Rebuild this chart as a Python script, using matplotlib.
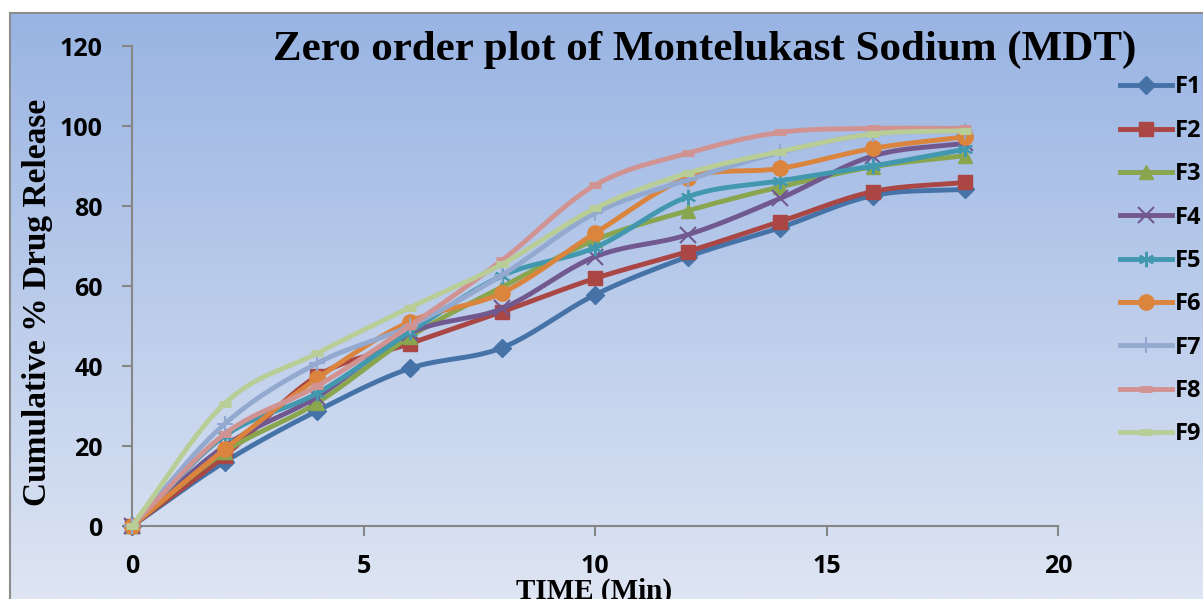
import matplotlib.pyplot as plt
import numpy as np

time_min = [0, 2, 4, 6, 8, 10, 12, 14, 16, 18]

f1 = [0, 16.0, 28.8, 39.4, 44.6, 57.8, 67.3, 74.6, 82.6, 84.2]
f2 = [0, 17.5, 37.5, 45.6, 53.6, 61.9, 68.6, 76.1, 83.6, 85.9]
f3 = [0, 18.5, 30.8, 47.3, 59.8, 71.5, 78.8, 84.8, 89.8, 92.6]
f4 = [0, 20.0, 32.3, 48.2, 54.4, 67.3, 72.8, 81.9, 92.5, 95.7]
f5 = [0, 22.5, 33.2, 48.5, 62.6, 69.6, 82.3, 86.3, 90.0, 94.2]
f6 = [0, 19.2, 36.9, 51.1, 58.3, 73.2, 87.0, 89.4, 94.4, 97.3]
f7 = [0, 25.5, 40.7, 50.0, 62.8, 78.2, 86.5, 93.4, 98.0, 98.8]
f8 = [0, 23.0, 35.0, 50.0, 66.5, 85.2, 93.2, 98.4, 99.4, 99.4]
f9 = [0, 30.6, 43.2, 54.6, 65.5, 79.4, 88.2, 93.6, 98.0, 98.8]

names = ['F1', 'F2', 'F3', 'F4', 'F5', 'F6', 'F7', 'F8', 'F9']
series = [f1, f2, f3, f4, f5, f6, f7, f8, f9]
colors = ['#4572A7', '#AA4643', '#89A54E', '#71588F', '#4198AF',
          '#DB843D', '#93A9CF', '#D19392', '#B9CD96']
markers = ['D', 's', '^', 'x', (6, 2, 0), 'o', '+', '_', '_']
msizes = [9, 10, 10, 11, 11, 11, 11, 9, 9]
mews = [1, 1, 1, 1.5, 1.5, 1, 1.5, 5, 5]


def smooth(x, y, n=24):
    # catmull-rom curve through the points, like excel's "smoothed line"
    x = np.asarray(x, float)
    y = np.asarray(y, float)
    px = np.concatenate([[2 * x[0] - x[1]], x, [2 * x[-1] - x[-2]]])
    py = np.concatenate([[2 * y[0] - y[1]], y, [2 * y[-1] - y[-2]]])
    xs, ys = [], []
    t = np.linspace(0, 1, n, endpoint=False)
    for i in range(1, len(px) - 2):
        for p, out in ((px, xs), (py, ys)):
            p0, p1, p2, p3 = p[i - 1], p[i], p[i + 1], p[i + 2]
            out.extend(0.5 * (2 * p1 + (-p0 + p2) * t
                              + (2 * p0 - 5 * p1 + 4 * p2 - p3) * t ** 2
                              + (-p0 + 3 * p1 - 3 * p2 + p3) * t ** 3))
    xs.append(x[-1])
    ys.append(y[-1])
    return np.array(xs), np.array(ys)


fig = plt.figure(figsize=(12.03, 5.99), dpi=100)

# gradient chart background with grey frame
bg = fig.add_axes([10 / 1203, 0, 1 - 10 / 1203, 586 / 599])
grad = np.linspace(0, 1, 256)[:, None]
top = np.array([0x99, 0xB4, 0xE3]) / 255
bot = np.array([0xDE, 0xE5, 0xF3]) / 255
img = top[None, None, :] * (1 - grad[:, :, None]) + bot[None, None, :] * grad[:, :, None]
bg.imshow(img, aspect='auto', extent=[0, 1, 0, 1])
bg.set_xticks([])
bg.set_yticks([])
for s in ['right', 'bottom']:
    bg.spines[s].set_visible(False)
for s in ['top', 'left']:
    bg.spines[s].set_color('#8C8C8C')
    bg.spines[s].set_linewidth(1.5)

ax = fig.add_axes([132 / 1203, 73 / 599, 926 / 1203, 480 / 599])
ax.set_facecolor('none')

for i in range(len(series)):
    sx, sy = smooth(time_min, series[i])
    ax.plot(sx, sy, color=colors[i], lw=3.5, solid_capstyle='round', zorder=3 + i)
    ax.plot(time_min, series[i], linestyle='none', marker=markers[i],
            ms=msizes[i], mew=mews[i], color=colors[i], clip_on=False, zorder=3 + i)
    ax.plot([], [], color=colors[i], lw=3.5, marker=markers[i], ms=msizes[i],
            mew=mews[i], label=names[i])

ax.set_xlim(0, 20)
ax.set_ylim(0, 120)
ax.set_xticks([0, 5, 10, 15, 20])
ax.set_yticks(range(0, 121, 20))
for s in ['top', 'right']:
    ax.spines[s].set_visible(False)
for s in ['left', 'bottom']:
    ax.spines[s].set_color('#868686')
    ax.spines[s].set_linewidth(1.5)
ax.tick_params(direction='out', length=7, width=1.5, color='#868686')
ax.tick_params(axis='y', pad=14)
ax.tick_params(axis='x', pad=13)
for lab in ax.get_xticklabels() + ax.get_yticklabels():
    lab.set_fontfamily('Open Sans')
    lab.set_fontweight('bold')
    lab.set_fontsize(18)

fig.text(705 / 1203, 1 - 50 / 599, 'Zero order plot of Montelukast Sodium (MDT)',
         family='Liberation Serif', weight='bold', fontsize=31,
         ha='center', va='center')
fig.text(38 / 1203, 1 - 302 / 599, 'Cumulative % Drug Release',
         family='Liberation Serif', weight='bold', fontsize=24,
         rotation=90, ha='center', va='center')
fig.text(594 / 1203, 1 - 578 / 599, 'TIME (Min)',
         family='Liberation Serif', weight='bold', fontsize=21,
         ha='center', va='top')

leg = fig.legend(loc='upper left', bbox_to_anchor=(1111 / 1203, 1 - 66 / 599),
                 frameon=False, handlelength=2.2, labelspacing=0.82,
                 handletextpad=0.12, borderaxespad=0,
                 prop={'family': 'Open Sans', 'weight': 'bold', 'size': 17})

fig.savefig('out.png', dpi=100)
